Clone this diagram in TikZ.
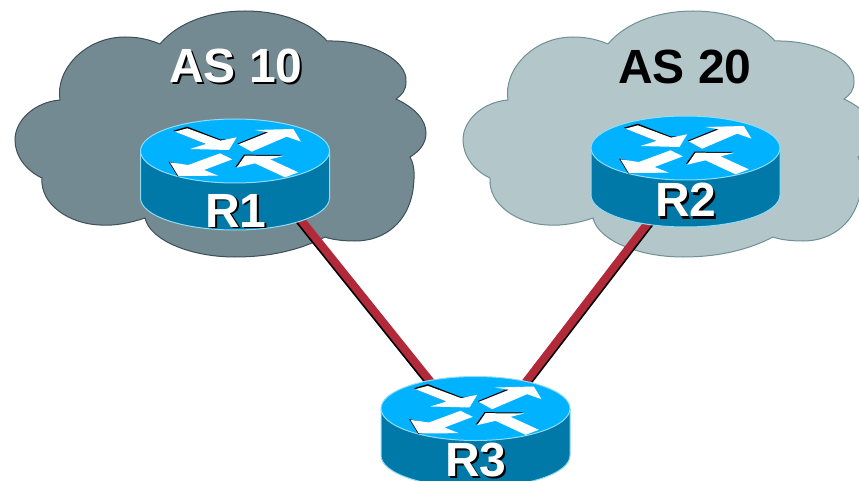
\documentclass[tikz,border=0pt]{standalone}
\usepackage{fontspec}
\setmainfont{Liberation Sans}
\usetikzlibrary{calc}
\definecolor{cloudA}{HTML}{748A93}
\definecolor{cloudAedge}{HTML}{3E4F56}
\definecolor{cloudB}{HTML}{B3C6C9}
\definecolor{cloudBedge}{HTML}{6F9094}
\definecolor{routerTop}{HTML}{00B2FF}
\definecolor{routerSide}{HTML}{0078A8}
\definecolor{routerEdge}{HTML}{8FDDF5}
\definecolor{linkRed}{HTML}{B22A3A}
\newcommand{\cloudpath}{(160,44)
 .. controls (180,20) and (215,11) .. (245,11)
 .. controls (280,11) and (310,22) .. (327,41)
 .. controls (370,40) and (408,60) .. (406,82)
 .. controls (406,90) and (402,95) .. (396,99)
 .. controls (415,108) and (426,120) .. (426,133)
 .. controls (426,143) and (420,151) .. (410,157)
 .. controls (416,168) and (414,180) .. (413,190)
 .. controls (408,222) and (385,241) .. (355,241)
 .. controls (345,241) and (333,240) .. (325,237)
 .. controls (300,250) and (270,257) .. (235,257)
 .. controls (190,257) and (150,240) .. (145,218)
 .. controls (130,223) and (115,226) .. (100,225)
 .. controls (70,224) and (40,205) .. (42,178)
 .. controls (25,170) and (15,155) .. (15,140)
 .. controls (15,120) and (35,102) .. (60,100)
 .. controls (55,70) and (85,37) .. (125,37)
 .. controls (140,37) and (150,40) .. (160,44) -- cycle}
\tikzset{
  x=1pt,y=-1pt,
  cloudA style/.style={fill=cloudA,draw=cloudAedge,line width=1pt},
  cloudB style/.style={fill=cloudB,draw=cloudBedge,line width=1pt},
  cloud glint/.style={draw=white,line width=1pt},
  link black/.style={draw=black,line width=8pt},
  link red/.style={draw=linkRed,line width=8pt},
  big text/.style={inner sep=0pt,anchor=base,font=\bfseries\fontsize{48}{48}\selectfont},
  arrow white/.style={fill=white},
  arrow black/.style={fill=black},
  router/.pic={
    \fill[routerSide] (-94.5,0) -- (-94.5,47) .. controls (-94.5,64.7) and (-52.2,79) .. (0,79)
       .. controls (52.2,79) and (94.5,64.7) .. (94.5,47) -- (94.5,0) -- cycle;
    \draw[routerEdge,line width=1pt] (-94.5,0) -- (-94.5,47) .. controls (-94.5,64.7) and (-52.2,79) .. (0,79)
       .. controls (52.2,79) and (94.5,64.7) .. (94.5,47) -- (94.5,0);
    \draw[routerEdge,line width=1pt,fill=routerTop] (0,0) ellipse [x radius=94.5pt,y radius=32pt];
    \begin{scope}[shift={(-105,-51)},x=0.3333pt,y=-0.3333pt]
      \fill[arrow black] (130,92)--(172,80)--(270,118)--(290,118)--(228,132)--cycle;
      \fill[arrow black] (322,131)--(412,94)--(420,100)--(365,150)--cycle;
      \fill[arrow black] (116,185)--(140,190)--(155,228)--(143,229)--cycle;
      \fill[arrow black] (316,201)--(342,164)--(458,165)--(420,175)--(350,190)--cycle;
      \fill[arrow white] (135,95)--(172,85)--(272,122)--(320,112)--(297,150)--(180,147)--(228,132)--cycle;
      \fill[arrow white] (325,133)--(415,97)--(375,90)--(490,87)--(513,125)--(470,110)--(365,155)--cycle;
      \fill[arrow white] (120,187)--(175,195)--(270,160)--(307,178)--(222,210)--(265,227)--(145,228)--cycle;
      \fill[arrow white] (320,203)--(345,167)--(460,168)--(420,178)--(505,217)--(465,232)--(375,190)--cycle;
    \end{scope}
  }
}
\begin{document}
\begin{tikzpicture}
\useasboundingbox (0,0) rectangle (859,481);
\clip (0,0) rectangle (859,481);
% clouds
\begin{scope}[shift={(1,1.5)}] \draw[cloud glint] \cloudpath; \end{scope}
\path[cloudA style] \cloudpath;
\begin{scope}[shift={(448,0)}]
  \begin{scope}[shift={(1,1.5)}] \draw[cloud glint] \cloudpath; \end{scope}
  \path[cloudB style] \cloudpath;
\end{scope}
% link ends, hidden beneath the routers
\coordinate (R1 port) at (287.5,203);
\coordinate (R2 port) at (664,202);
\coordinate (R3 portA) at (439,392);
\coordinate (R3 portB) at (512,400);
\draw[link black] ($(R1 port)+(-1,1.5)$) -- ($(R3 portA)+(-1,1.5)$);
\draw[link black] ($(R2 port)+(1,1.5)$) -- ($(R3 portB)+(1,1.5)$);
\draw[link red] (R1 port) -- (R3 portA);
\draw[link red] (R2 port) -- (R3 portB);
% routers
\pic at (235,151) {router};
\pic at (685.5,148) {router};
\pic at (475.5,408.5) {router};
% labels
\node[big text,text=black] (as10s) at (238,85) {AS 10};
\node[big text,text=white] (as10) at (236,83) {AS 10};
\node[big text,text=black] (as20) at (685,84) {AS 20};
\node[big text,text=black] (r1s) at (238,229) {R1};
\node[big text,text=white] (r1) at (236,227) {R1};
\node[big text,text=black] (r2s) at (688,219) {R2};
\node[big text,text=white] (r2) at (686,217) {R2};
\node[big text,text=black] (r3s) at (478,478) {R3};
\node[big text,text=white] (r3) at (476,476) {R3};
\end{tikzpicture}
\end{document}
